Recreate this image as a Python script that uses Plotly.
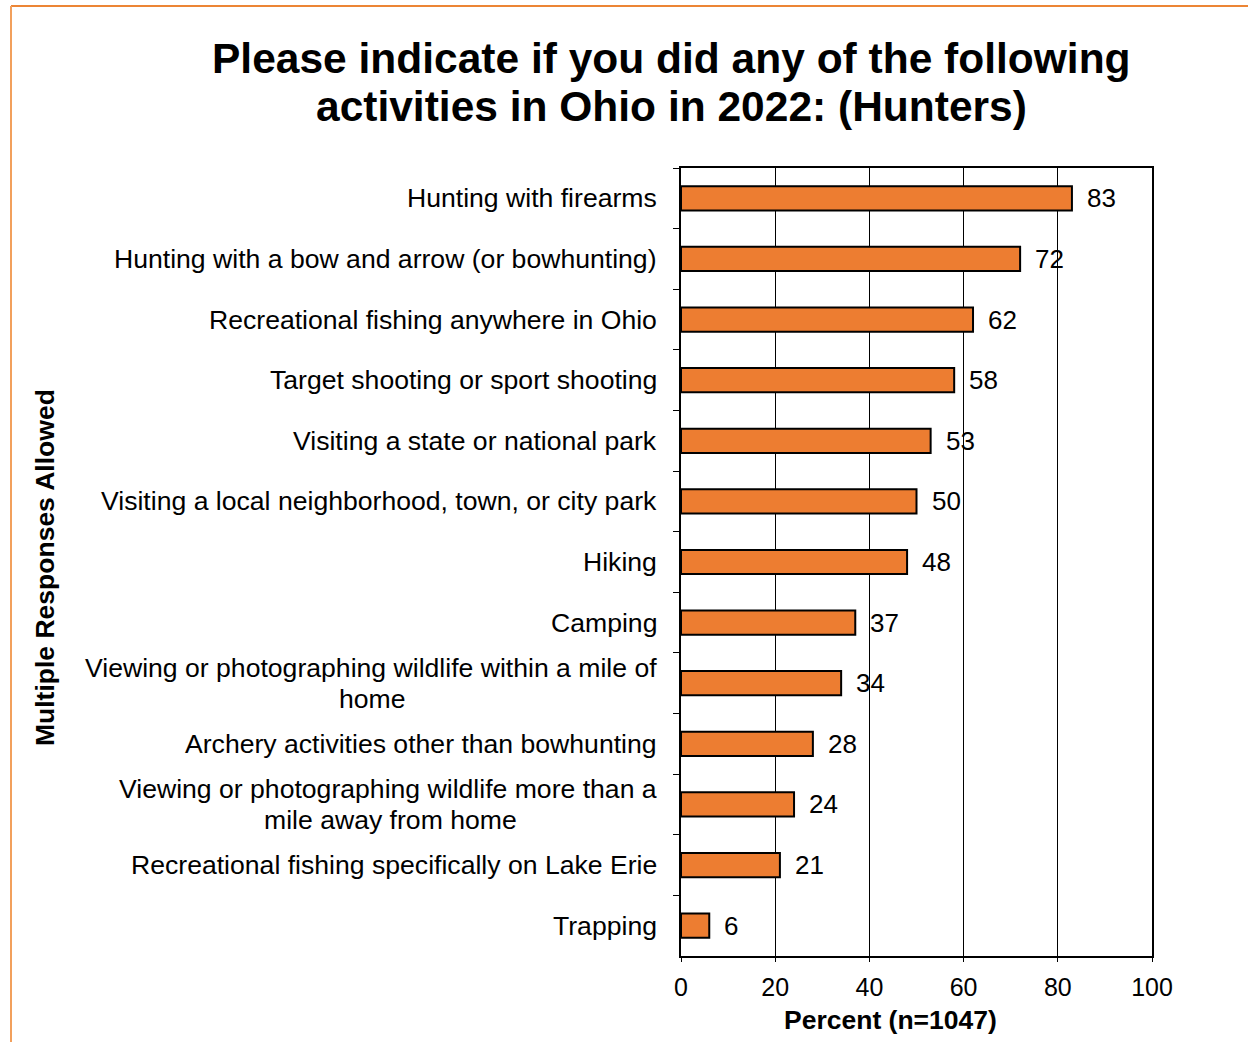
import plotly.graph_objects as go

# Survey activities (top to bottom) and percent of hunters reporting each
activities = [
    "Hunting with firearms",
    "Hunting with a bow and arrow (or bowhunting)",
    "Recreational fishing anywhere in Ohio",
    "Target shooting or sport shooting",
    "Visiting a state or national park",
    "Visiting a local neighborhood, town, or city park",
    "Hiking",
    "Camping",
    "Viewing or photographing wildlife within a mile of<br>home",
    "Archery activities other than bowhunting",
    "Viewing or photographing wildlife more than a<br>mile away from home",
    "Recreational fishing specifically on Lake Erie",
    "Trapping",
]
percents = [83, 72, 62, 58, 53, 50, 48, 37, 34, 28, 24, 21, 6]
x_ticks = [0, 20, 40, 60, 80, 100]
title_lines = [
    "Please indicate if you did any of the following",
    "activities in Ohio in 2022: (Hunters)",
]

FONT = "Liberation Sans, Arial, sans-serif"
BAR = "#ED7D31"
LABEL_SIZE = 26.6
LABEL_PAD = -22  # gap between category labels and the plot edge
LINE_GAP = 31    # pixel distance between lines of a wrapped label

# Plot area in pixels
W, H = 1248, 1042
L, R, T, B = 681, 1152, 168, 956
pw, ph = R - L, B - T


def px_x(p):
    return (p - L) / pw


def px_y(p):
    return (B - p) / ph


fig = go.Figure(
    go.Bar(
        x=percents,
        y=activities,
        orientation="h",
        width=0.4,
        marker=dict(color=BAR, line=dict(color="black", width=2)),
        hoverinfo="x+y",
    )
)

# Category labels; the first line of each is right-aligned to the axis,
# continuation lines are centred beneath it (see post_js below)
for a in activities:
    lines = a.split("<br>")
    n = len(lines)
    fig.add_annotation(
        xref="paper", x=0, y=a, text=lines[0], showarrow=False,
        xanchor="right", yanchor="middle", xshift=LABEL_PAD,
        yshift=LINE_GAP * (n - 1) / 2,
        font=dict(family=FONT, size=LABEL_SIZE, color="black"),
        name="catline",
    )
    for i, ln in enumerate(lines[1:], start=1):
        fig.add_annotation(
            xref="paper", x=0, y=a, text=ln, showarrow=False,
            xanchor="center", yanchor="middle", xshift=LABEL_PAD,
            yshift=LINE_GAP * ((n - 1) / 2 - i),
            font=dict(family=FONT, size=LABEL_SIZE, color="black"),
            name="wrapline|" + lines[0],
        )

# Value labels just past each bar end
for a, v in zip(activities, percents):
    fig.add_annotation(
        x=v, y=a, text=str(v), showarrow=False, xanchor="left", xshift=13,
        font=dict(family=FONT, size=26, color="black"),
    )

# Title, one annotation per line
for line, yc in zip(title_lines, [58, 106]):
    fig.add_annotation(
        xref="paper", yref="paper", x=px_x(671), y=px_y(yc),
        text="<b>" + line + "</b>", showarrow=False,
        xanchor="center", yanchor="middle",
        font=dict(family=FONT, size=42.5, color="black"),
    )

# Axis titles
fig.add_annotation(
    xref="paper", yref="paper", x=px_x(890), y=px_y(1020),
    text="<b>Percent (n=1047)</b>", showarrow=False,
    xanchor="center", yanchor="middle",
    font=dict(family=FONT, size=26.5, color="black"),
)
fig.add_annotation(
    xref="paper", yref="paper", x=px_x(45), y=px_y(568),
    text="<b>Multiple Responses Allowed</b>", showarrow=False, textangle=-90,
    xanchor="center", yanchor="middle",
    font=dict(family=FONT, size=26.5, color="black"),
)

# Orange frame lines along the top and left of the page
fig.add_shape(type="line", xref="paper", yref="paper",
              x0=px_x(11), x1=px_x(W), y0=px_y(6), y1=px_y(6),
              line=dict(color="#EC8535", width=2))
fig.add_shape(type="line", xref="paper", yref="paper",
              x0=px_x(11), x1=px_x(11), y0=px_y(6), y1=px_y(H),
              line=dict(color="#F2A05C", width=2))

fig.update_layout(
    width=W, height=H,
    margin=dict(l=L, r=W - R, t=T, b=H - B),
    paper_bgcolor="white", plot_bgcolor="white",
    showlegend=False,
    bargap=0.6,
    font=dict(family=FONT, size=24, color="black"),
    xaxis=dict(
        range=[0, 100], tickvals=x_ticks, ticktext=[str(t) for t in x_ticks],
        showgrid=True, gridcolor="black", gridwidth=1,
        showline=True, linecolor="black", linewidth=2, mirror=True,
        ticks="outside", ticklen=4, tickcolor="black", ticklabelstandoff=4,
        tickfont=dict(family=FONT, size=25), zeroline=False,
    ),
    yaxis=dict(
        autorange="reversed", type="category",
        showline=True, linecolor="black", linewidth=2, mirror=True,
        ticks="outside", ticklen=6, tickcolor="black", tickson="boundaries",
        showticklabels=False, showgrid=False,
    ),
)

# Measure each wrapped label's first line in the browser and move its
# continuation lines to that line's midpoint.
post_js = """
var gd = document.getElementsByClassName('plotly-graph-div')[0];
var anns = gd.layout.annotations;
var nodes = gd.querySelectorAll('.annotation');
var widths = {};
anns.forEach(function (a, i) {
  if (a.name === 'catline') {
    widths[a.text] = nodes[i].querySelector('text').getBBox().width;
  }
});
var upd = {};
anns.forEach(function (a, i) {
  if (a.name && a.name.indexOf('wrapline|') === 0) {
    var w = widths[a.name.slice(9)];
    if (w !== undefined) {
      upd['annotations[' + i + '].xshift'] = %d - w / 2;
    }
  }
});
Plotly.relayout(gd, upd);
""" % LABEL_PAD

fig.write_html("out.html", post_script=post_js)
